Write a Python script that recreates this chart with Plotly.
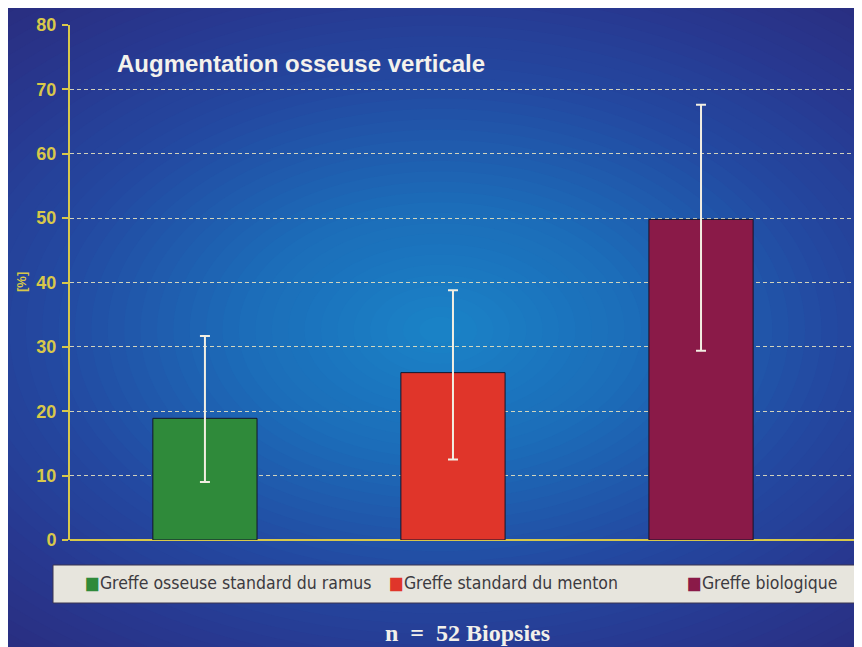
import plotly.graph_objects as go

# ---- data ----
categories = ["Greffe osseuse standard du ramus", "Greffe standard du menton", "Greffe biologique"]
values = [18.9, 26.0, 49.8]
err_plus = [12.8, 12.8, 17.8]
err_minus = [9.9, 13.5, 20.4]
colors = ["#2f8a3a", "#e0352a", "#8a1a48"]
y_ticks = [0, 10, 20, 30, 40, 50, 60, 70, 80]
title_text = "Augmentation osseuse verticale"
footer_text = "n\u00a0\u00a0=\u00a0\u00a052 Biopsies"
legend_x_px = [85, 389, 687]

# ---- geometry (reference pixel coords; page body has an 8px margin) ----
O = 8
W, H = 862 - O, 647 - O
L, R, T, B = 70 - O, 0, 25 - O, 647 - 540
PW, PH = W - L - R, H - T - B


def px(x):
    return (x - O - L) / PW


def py(y):
    return (H - B - (y - O)) / PH


def hex2rgb(h):
    h = h.lstrip("#")
    return tuple(int(h[i:i + 2], 16) for i in (0, 2, 4))


def lerp(c1, c2, t):
    a, b = hex2rgb(c1), hex2rgb(c2)
    return "rgb(%d,%d,%d)" % tuple(round(a[i] + (b[i] - a[i]) * t) for i in range(3))


stops = [(0.0, "#1a84c8"), (0.4, "#1c6cb8"), (0.75, "#234aa2"), (1.05, "#283890"), (1.4, "#2a2a7a"), (2.0, "#2a2674")]


def grad(r):
    for (r0, c0), (r1, c1) in zip(stops, stops[1:]):
        if r <= r1:
            return lerp(c0, c1, (r - r0) / (r1 - r0))
    return stops[-1][1]


shapes = []
cx, cy, rx, ry = 440, 330, 520, 330
N = 60
for i in range(N):
    r = 1.9 - i * (1.86 / (N - 1))
    shapes.append(dict(type="circle", xref="paper", yref="paper", layer="below",
                       x0=px(cx - rx * r), x1=px(cx + rx * r),
                       y0=py(cy + ry * r), y1=py(cy - ry * r),
                       fillcolor=grad(r), line=dict(width=0)))

# legend band
shapes.append(dict(type="rect", xref="paper", yref="paper", layer="above",
                   x0=px(53), x1=px(870), y0=py(603), y1=py(565),
                   fillcolor="#e7e5dd", line=dict(width=1, color="#3a3550")))

fig = go.Figure()
fig.add_trace(go.Bar(
    x=list(range(len(categories))), y=values, width=0.42,
    marker=dict(color=colors, line=dict(color="#15152a", width=1)),
    error_y=dict(type="data", symmetric=False, array=err_plus, arrayminus=err_minus,
                 color="#f2eee2", thickness=2, width=5),
    showlegend=False, hoverinfo="y",
))

annotations = [
    dict(text=title_text, xref="paper", yref="paper", x=px(115), y=py(63),
         xanchor="left", yanchor="middle", showarrow=False,
         font=dict(family="Liberation Sans, Arial", size=24, color="#f4f2ec", weight="bold")),
    dict(text="[%]", xref="paper", yref="paper", x=px(21), y=py(282), textangle=-90,
         xanchor="center", yanchor="middle", showarrow=False,
         font=dict(family="Liberation Sans, Arial", size=13, color="#d8c84a", weight="bold")),
    dict(text=footer_text, xref="paper", yref="paper", x=px(468), y=py(633),
         xanchor="center", yanchor="middle", showarrow=False,
         font=dict(family="Liberation Serif, Times New Roman", size=24, color="#f2f0ea", weight="bold")),
]
for name, col, xp in zip(categories, colors, legend_x_px):
    annotations.append(dict(
        text="<span style='color:%s'>■</span>%s" % (col, name),
        xref="paper", yref="paper", x=px(xp - 2), y=py(583),
        xanchor="left", yanchor="middle", showarrow=False,
        font=dict(family="Liberation Sans Narrow, DejaVu Sans Condensed, Arial Narrow, Arial",
                  size=17.5, color="#3c3a40"),
    ))

fig.update_layout(
    width=W, height=H,
    margin=dict(l=L, r=R, t=T, b=B, pad=0),
    paper_bgcolor="#2a2674", plot_bgcolor="rgba(0,0,0,0)",
    shapes=shapes, annotations=annotations,
    xaxis=dict(range=[-0.544, 2.649], showgrid=False, zeroline=False, showticklabels=False,
               ticks="", showline=False),
    yaxis=dict(range=[0, 80], tickvals=y_ticks, showgrid=True,
               gridcolor="rgba(228,224,190,0.9)", griddash="4px,3px", gridwidth=1,
               zeroline=True, zerolinecolor="#d8c84a", zerolinewidth=2,
               showline=True, linecolor="#d8c84a", linewidth=2,
               ticks="outside", ticklen=6, tickcolor="#d8c84a", tickwidth=2,
               tickfont=dict(family="Liberation Sans, Arial", size=18, color="#d8c84a", weight="bold"),
               ticklabelstandoff=2),
)

fig.write_html("out.html")
